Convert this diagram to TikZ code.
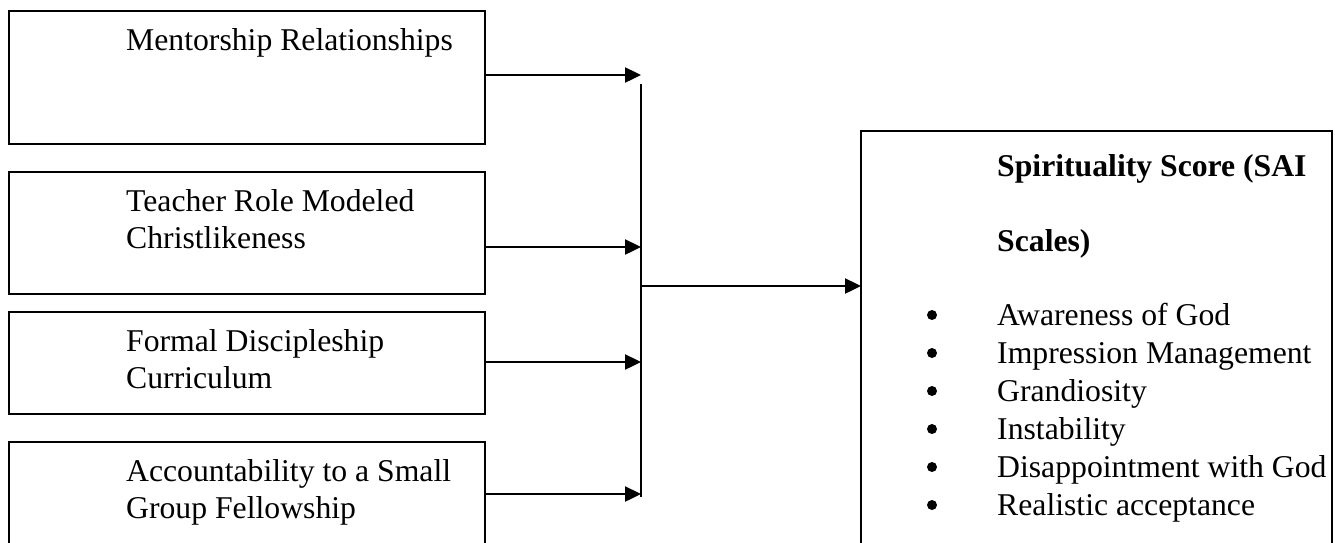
\documentclass[tikz,border=0pt]{standalone}
\usepackage{fontspec}
\setmainfont{Liberation Serif}
\usetikzlibrary{arrows.meta}
\begin{document}
\begin{tikzpicture}[x=1pt,y=-1pt,
  box/.style={draw, line width=1.8pt, anchor=north west, inner sep=0pt, outer sep=0pt},
  lbl/.style={anchor=base west, inner sep=0pt, font=\fontsize{31.7}{37}\selectfont},
  dot/.style={circle, fill, minimum size=10pt, inner sep=0pt},
  conn/.style={line width=2.4pt, -{Triangle[length=16pt,width=15pt]}},
  bus/.style={line width=1.6pt},
  ]
\useasboundingbox (0,0) rectangle (1335,542);
\begin{scope}
\clip (0,0) rectangle (1335,542);
\node[box, minimum width=476pt, minimum height=133pt] (b1) at (9,11) {};
\node[box, minimum width=476pt, minimum height=122pt] (b2) at (9,172) {};
\node[box, minimum width=476pt, minimum height=102pt] (b3) at (9,312) {};
\node[box, minimum width=476pt, minimum height=130pt] (b4) at (9,442) {};
\node[box, minimum width=471pt, minimum height=450pt] (R) at (861,131) {};
\end{scope}

\node[lbl] (t1) at (126,50) {Mentorship Relationships};
\node[lbl] (t2a) at (126,211) {Teacher Role Modeled};
\node[lbl] (t2b) at (126,248) {Christlikeness};
\node[lbl] (t3a) at (126,351) {Formal Discipleship};
\node[lbl] (t3b) at (126,388) {Curriculum};
\node[lbl] (t4a) at (126,481) {Accountability to a Small};
\node[lbl] (t4b) at (126,518) {Group Fellowship};

\node[lbl, font=\fontsize{31.7}{37}\selectfont\bfseries] (h1) at (997,176) {Spirituality Score (SAI};
\node[lbl, font=\fontsize{31.7}{37}\selectfont\bfseries] (h2) at (997,251) {Scales)};

\foreach \i/\txt in {0/Awareness of God,1/Impression Management,2/Grandiosity,3/Instability,4/Disappointment with God,5/Realistic acceptance}{
  \node[dot] (d\i) at (932,315+38*\i) {};
  \node[lbl] (s\i) at (997,325+38*\i) {\txt};
}

\coordinate (vtop) at (641,84);
\coordinate (vbot) at (641,497);
\coordinate (j1) at (641,75);
\coordinate (j2) at (641,247);
\coordinate (j3) at (641,362);
\coordinate (j4) at (641,494);
\coordinate (jm) at (641,286);

\draw[bus] (vtop) -- (vbot);
\draw[conn] ([yshift=2.5pt]b1.east) -- (j1);
\draw[conn] ([yshift=-14pt]b2.east) -- (j2);
\draw[conn] ([yshift=1pt]b3.east) -- (j3);
\draw[conn] ([yshift=-52pt]b4.north east) -- (j4);
\draw[conn] (jm) -- (jm -| R.west);
\end{tikzpicture}
\end{document}
